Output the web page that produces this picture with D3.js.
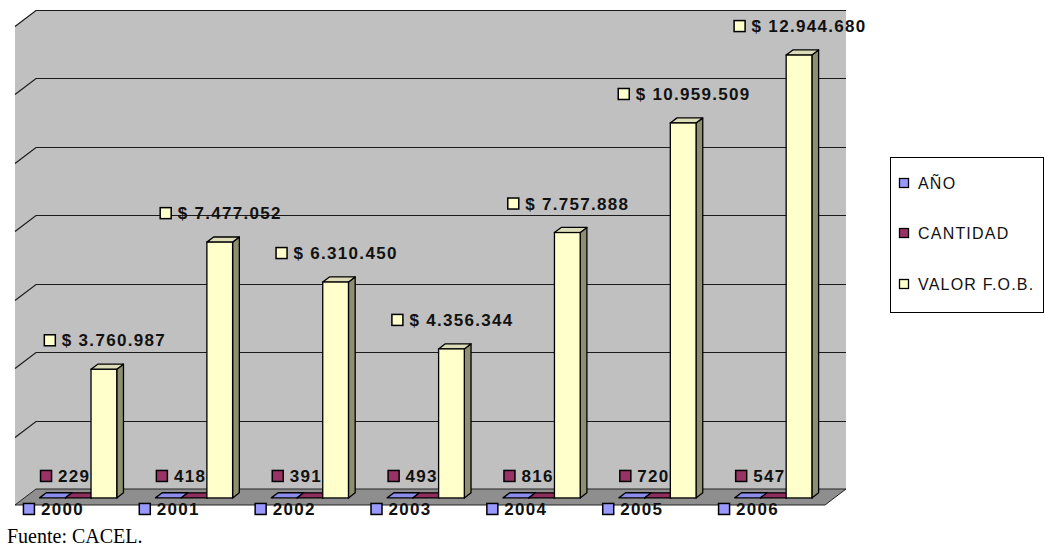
<!DOCTYPE html>
<html><head><meta charset="utf-8">
<script src="https://cdn.jsdelivr.net/npm/d3@7"></script>
<style>
html,body{margin:0;padding:0;background:#fff;}
svg{display:block;}
.lbl{font-family:"Liberation Sans",Arial,sans-serif;font-size:17px;font-weight:bold;letter-spacing:1.3px;fill:#111;}
.leg{font-family:"Liberation Sans",Arial,sans-serif;font-size:16px;letter-spacing:1.2px;fill:#111;}
.src{font-family:"Liberation Serif","Times New Roman",serif;font-size:20px;fill:#000;}
</style></head>
<body>
<script>
// ---- data ----
const years = ["2000","2001","2002","2003","2004","2005","2006"];
const anio = [2000,2001,2002,2003,2004,2005,2006];
const cantidad = [229,418,391,493,816,720,547];
const valorFOB = [3760987,7477052,6310450,4356344,7757888,10959509,12944680];
const valorLabels = ["$ 3.760.987","$ 7.477.052","$ 6.310.450","$ 4.356.344","$ 7.757.888","$ 10.959.509","$ 12.944.680"];
const seriesNames = ["AÑO","CANTIDAD","VALOR F.O.B."];
const yTicks = [0,2000000,4000000,6000000,8000000,10000000,12000000,14000000];
const sourceText = "Fuente: CACEL.";

// ---- styles / layout ----
const W = 1045, H = 548;
const colors = {
  "AÑO": {front:"#9999FF", top:"#8C8CEB", side:"#6B6BB3"},
  "CANTIDAD": {front:"#993366", top:"#8F2F5E", side:"#6B2347"},
  "VALOR F.O.B.": {front:"#FFFFCC", top:"#DCDCB8", side:"#8E8E70"}
};
const DX = 21, DY = 16;          // oblique depth offset of the floor
const wallL = 36, wallR = 846, wallT = 10, wallB = 489;
const zb = 0.24, zf = 0.56;      // bar depth (fraction of floor depth)

const svg = d3.select("body").append("svg").attr("width", W).attr("height", H);

const y = d3.scaleLinear().domain([0, 14000000]).range([wallB, wallT]);
const x = d3.scaleBand().domain(years).range([32, 843]).paddingInner(0.334).paddingOuter(0.167);
const xs = d3.scaleBand().domain(seriesNames).range([0, x.bandwidth()]);

const P = (px, py, z) => [px - z * DX, py + z * DY];
const poly = pts => pts.map(p => p.join(",")).join(" ");

// left side wall
svg.append("polygon")
  .attr("points", poly([P(wallL, wallT, 0), P(wallL, wallT, 1), P(wallL, wallB, 1), P(wallL, wallB, 0)]))
  .attr("fill", "#C0C0C0");
// back wall
svg.append("rect").attr("x", wallL).attr("y", wallT).attr("width", wallR - wallL).attr("height", wallB - wallT)
  .attr("fill", "#C0C0C0");
// floor
svg.append("polygon")
  .attr("points", poly([P(wallL, wallB, 0), P(wallR, wallB, 0), P(wallR, wallB, 1), P(wallL, wallB, 1)]))
  .attr("fill", "#8E8E8E").attr("stroke", "#222").attr("stroke-width", 1);

// gridlines (back wall + side wall)
yTicks.forEach(t => {
  if (t === 0) return;
  const yy = Math.round(y(t)) + 0.5;
  svg.append("polyline")
    .attr("points", poly([P(wallL, yy, 1), P(wallL, yy, 0), [wallR, yy]]))
    .attr("fill", "none").attr("stroke", "#1a1a1a").attr("stroke-width", 1.2);
});

function bar3d(g, x0, w, v, c) {
  const x1 = x0 + w, yv = y(v), y0 = y(0);
  g.append("polygon").attr("points", poly([P(x1, yv, zf), P(x1, yv, zb), P(x1, y0, zb), P(x1, y0, zf)]))
    .attr("fill", c.side).attr("stroke", "#000").attr("stroke-width", 1.3).attr("stroke-linejoin", "round");
  g.append("polygon").attr("points", poly([P(x0, yv, zf), P(x1, yv, zf), P(x1, yv, zb), P(x0, yv, zb)]))
    .attr("fill", c.top).attr("stroke", "#000").attr("stroke-width", 1.3).attr("stroke-linejoin", "round");
  if (y0 - yv > 0.5) {
    const a = P(x0, yv, zf), b = P(x1, y0, zf);
    g.append("rect").attr("x", a[0]).attr("y", a[1]).attr("width", b[0] - a[0]).attr("height", b[1] - a[1])
      .attr("fill", c.front).attr("stroke", "#000").attr("stroke-width", 1.3);
  }
}

function keyLabel(g, cx, cy, text, fill) {
  const lg = g.append("g");
  const t = lg.append("text").attr("class", "lbl").attr("x", 18).attr("y", 0).attr("dy", "0.36em").text(text);
  lg.append("rect").attr("x", 0.5).attr("y", -5.5).attr("width", 11).attr("height", 11)
    .attr("fill", fill).attr("stroke", "#000").attr("stroke-width", 1.5);
  const w = 18 + t.node().getComputedTextLength();
  lg.attr("transform", `translate(${cx - w / 2},${cy})`);
}

const gBars = svg.append("g");
const gLabels = svg.append("g");
const y0f = y(0) + zf * DY;

years.forEach((yr, i) => {
  const gx = x(yr);
  bar3d(gBars, gx + xs("AÑO"), xs.bandwidth(), anio[i], colors["AÑO"]);
  bar3d(gBars, gx + xs("CANTIDAD"), xs.bandwidth(), cantidad[i], colors["CANTIDAD"]);
  const cxC = gx + xs("CANTIDAD") + xs.bandwidth() / 2 - zf * DX - 13;
  keyLabel(gBars, cxC, y0f - 22, String(cantidad[i]), colors["CANTIDAD"].front);
  const cxA = gx + xs("AÑO") + xs.bandwidth() / 2 - zf * DX + 1;
  keyLabel(gBars, cxA, y0f + 11, String(anio[i]), colors["AÑO"].front);
});
years.forEach((yr, i) => {
  const gx = x(yr);
  bar3d(gBars, gx + xs("VALOR F.O.B."), xs.bandwidth(), valorFOB[i], colors["VALOR F.O.B."]);
});
years.forEach((yr, i) => {
  const gx = x(yr);
  const cx = gx + xs("VALOR F.O.B.") + xs.bandwidth() / 2 - zf * DX + 1;
  keyLabel(gLabels, cx, y(valorFOB[i]) + zf * DY - 29, valorLabels[i], colors["VALOR F.O.B."].front);
});

// legend
const lg = svg.append("g");
lg.append("rect").attr("x", 890.5).attr("y", 157.5).attr("width", 153).attr("height", 155)
  .attr("fill", "#fff").attr("stroke", "#000").attr("stroke-width", 1);
const legY = [183, 233, 284];
seriesNames.forEach((s, i) => {
  lg.append("rect").attr("x", 899.5).attr("y", legY[i] - 4.5).attr("width", 9).attr("height", 9)
    .attr("fill", colors[s].front).attr("stroke", "#000").attr("stroke-width", 1.3);
  lg.append("text").attr("class", "leg").attr("x", 918).attr("y", legY[i]).attr("dy", "0.36em").text(s);
});

// source
svg.append("text").attr("class", "src").attr("x", 7).attr("y", 543).text(sourceText);
</script>
</body></html>
